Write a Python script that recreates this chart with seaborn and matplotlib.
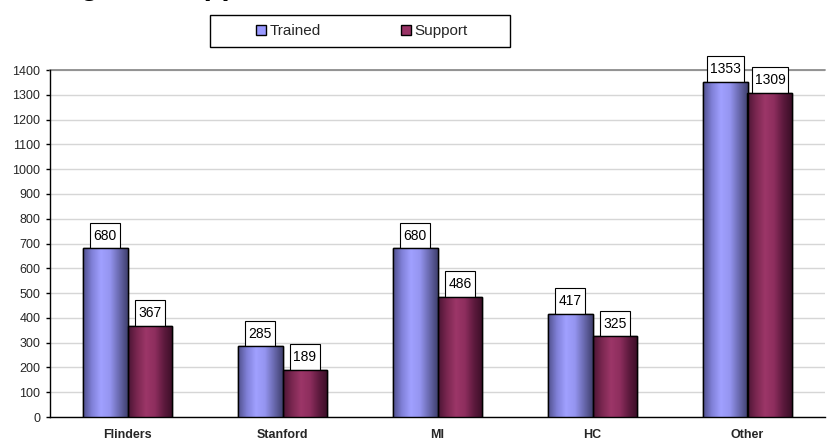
import numpy as np
import pandas as pd
import matplotlib
matplotlib.use("Agg")
import matplotlib.pyplot as plt
from matplotlib.colors import LinearSegmentedColormap
from matplotlib.path import Path
import seaborn as sns

# Data
sites = ["Flinders", "Stanford", "MI", "HC", "Other"]
trained = [680, 285, 680, 417, 1353]
support = [367, 189, 486, 325, 1309]
series = ["Trained", "Support"]
yticks = list(range(0, 1401, 100))

df = pd.DataFrame({
    "site": sites * 2,
    "count": trained + support,
    "group": ["Trained"] * len(sites) + ["Support"] * len(sites),
})

sns.set_theme(style="white")
plt.rcParams["font.family"] = ["Liberation Sans", "DejaVu Sans"]

fig = plt.figure(figsize=(8.33, 4.41), dpi=100)
ax = fig.add_axes([50 / 833, 1 - 417 / 441, 775 / 833, 347 / 441])

base_colors = {"Trained": "#9999ff", "Support": "#993366"}
sns.barplot(data=df, x="site", y="count", hue="group", order=sites,
            hue_order=series, palette=base_colors, width=0.58, gap=0,
            edgecolor="black", linewidth=1.0, ax=ax, legend=False,
            zorder=3)

# Cylinder-like shading for each series
shades = {
    "Trained": LinearSegmentedColormap.from_list(
        "tr", ["#50508c", "#8080d8", "#a0a0ff", "#9595f0", "#6a6ab0", "#40406e"]),
    "Support": LinearSegmentedColormap.from_list(
        "su", ["#4a1434", "#7a2750", "#9c3668", "#8e2e5e", "#5e1a3e", "#3a0e26"]),
}


def label_box(x0, y0, width, height, mutation_size):
    """Rectangular label frame, padded more vertically than horizontally."""
    px = 0.22 * mutation_size
    py = 0.42 * mutation_size
    x0, y0 = x0 - px, y0 - py
    x1, y1 = x0 + width + 2 * px, y0 + height + 2 * py
    return Path([(x0, y0), (x1, y0), (x1, y1), (x0, y1), (x0, y0)],
                closed=True)


grad = np.linspace(0, 1, 256).reshape(1, -1)
for name, container in zip(series, ax.containers):
    for bar in container:
        x0, y0 = bar.get_x(), bar.get_y()
        w, h = bar.get_width(), bar.get_height()
        im = ax.imshow(grad, extent=[x0, x0 + w, y0, y0 + h], aspect="auto",
                       cmap=shades[name], zorder=3.5, interpolation="bilinear")
        im.set_clip_path(bar)
        edge = plt.Rectangle((x0, y0), w, h, fill=False, edgecolor="black",
                             linewidth=1.0, zorder=4)
        ax.add_patch(edge)
        ax.annotate(f"{int(round(h))}", (x0 + w / 2, y0 + h),
                    xytext=(0, 4.2), textcoords="offset points",
                    ha="center", va="bottom", fontsize=10, color="black",
                    zorder=3.2,
                    bbox=dict(boxstyle=label_box, fc="white",
                              ec="black", lw=0.8))

ax.set_xlim(-0.5, len(sites) - 0.5)
ax.set_ylim(0, 1400)
ax.set_yticks(yticks)
ax.set_yticklabels([str(v) for v in yticks], fontsize=9)
ax.set_xticks(range(len(sites)))
ax.set_xticklabels(sites, fontsize=9, fontweight="bold")
ax.set_xlabel("")
ax.set_ylabel("")

ax.yaxis.grid(True, color="#d6d6d6", linewidth=1.0, zorder=0)
ax.set_axisbelow(True)
ax.axhline(1400, color="#8c8c8c", linewidth=1.3, zorder=1, clip_on=False)
for s in ["top", "right"]:
    ax.spines[s].set_visible(False)
for s in ["left", "bottom"]:
    ax.spines[s].set_color("black")
    ax.spines[s].set_linewidth(1.0)
ax.tick_params(axis="y", which="both", left=True, length=3, width=1,
               color="black", pad=4)
ax.tick_params(axis="x", bottom=False, length=0, pad=9)

# Legend entries above the plot, inside a plain frame
handles = [plt.Rectangle((0, 0), 1, 1, fc=base_colors[n], ec="black", lw=1)
           for n in series]
leg = fig.legend(handles, series, loc="center", ncol=2,
                 bbox_to_anchor=(362 / 833, 1 - 31 / 441), frameon=False,
                 fontsize=11, handlelength=0.65, handleheight=0.65,
                 handletextpad=0.25, columnspacing=5.2, borderpad=0)
fig.add_artist(plt.Rectangle((210 / 833, 1 - 47 / 441), 300 / 833, 32 / 441,
                             transform=fig.transFigure, fill=False,
                             edgecolor="black", linewidth=1.0))

# Chart title sitting above the top edge
fig.text(-15 / 833, 1.0 + 5 / 441, "Training and Support", ha="left",
         va="baseline", fontsize=21, fontweight="bold", color="black")

fig.savefig("out.png", dpi=100)
